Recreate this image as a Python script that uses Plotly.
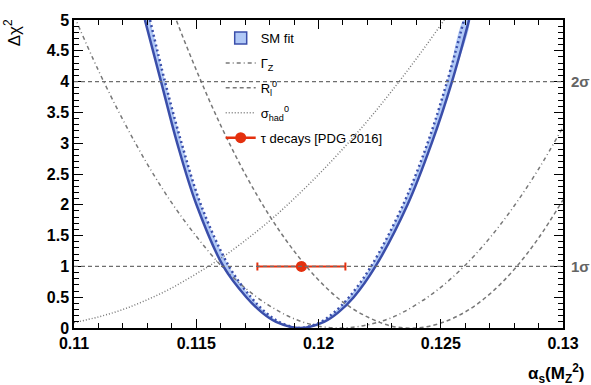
import plotly.graph_objects as go

# ---------------- data ----------------
ALPHA_GRID = [0.110, 0.111, 0.112, 0.113, 0.114, 0.115, 0.116, 0.117, 0.118, 0.119, 0.120,
              0.121, 0.122, 0.123, 0.124, 0.125, 0.126, 0.127, 0.128, 0.129, 0.130]

GAMMA_Z_DCHI2 = [5.07, 4.18, 3.38, 2.66, 2.03, 1.49, 1.02, 0.65, 0.36, 0.15, 0.03,
                 0.00, 0.05, 0.17, 0.38, 0.66, 1.02, 1.46, 1.98, 2.58, 3.26]
RL0_DCHI2 = [10.3, 8.86, 7.53, 6.31, 5.19, 4.19, 3.29, 2.50, 1.82, 1.25, 0.78,
             0.42, 0.18, 0.03, 0.00, 0.08, 0.26, 0.55, 0.95, 1.46, 2.08]
SIGHAD_DCHI2 = [0.087, 0.18, 0.30, 0.46, 0.65, 0.88, 1.13, 1.42, 1.74, 2.10, 2.49,
                2.91, 3.36, 3.85, 4.37, 4.92, 5.50, 6.12, 6.77, 7.46, 8.18]

# SM fit: outer (solid) and inner (dotted) profiles
SM_OUT_ALPHA = [0.11290, 0.11356, 0.11422, 0.11501, 0.11611, 0.11705, 0.11769, 0.11826, 0.11924,
                0.12023, 0.12080, 0.12144, 0.12233, 0.12364, 0.12463, 0.12546, 0.12616]
SM_OUT_DCHI2 = [5, 4, 3, 2, 1, 0.5, 0.25, 0.1, 0, 0.1, 0.25, 0.5, 1, 2, 3, 4, 5]
SM_IN_ALPHA = [0.11311, 0.11372, 0.11440, 0.11519, 0.11634, 0.11724, 0.11785, 0.11838, 0.11924,
               0.12010, 0.12063, 0.12125, 0.12215, 0.12346, 0.12446, 0.12526, 0.12595]
SM_IN_DCHI2 = [5, 4, 3, 2, 1, 0.5, 0.25, 0.1, 0, 0.1, 0.25, 0.5, 1, 2, 3, 4, 5]

TAU_ALPHA = [0.1193]
TAU_DCHI2 = [1.0]
TAU_ERR = [0.0018]

SIGMA_LEVELS = [1, 4]
SIGMA_LABELS = ["1σ", "2σ"]

X_TICKS = [0.11, 0.115, 0.12, 0.125, 0.13]
X_TICK_TEXT = ["0.11", "0.115", "0.12", "0.125", "0.13"]
Y_TICKS = [0, 0.5, 1, 1.5, 2, 2.5, 3, 3.5, 4, 4.5, 5]
Y_TICK_TEXT = ["0", "0.5", "1", "1.5", "2", "2.5", "3", "3.5", "4", "4.5", "5"]

# ---------------- styles ----------------
GRAY = "rgb(120,120,120)"
BLUE = "rgb(58,78,170)"
BAND = "rgb(176,200,246)"
RED = "rgb(228,48,14)"
FONT = "Liberation Sans, Arial, sans-serif"

fig = go.Figure()

# band between outer and inner profile
fig.add_trace(go.Scatter(
    x=SM_OUT_ALPHA + SM_IN_ALPHA[::-1], y=SM_OUT_DCHI2 + SM_IN_DCHI2[::-1],
    mode="lines", line=dict(width=0, shape="spline"), fill="toself", fillcolor=BAND,
    showlegend=False, hoverinfo="skip"))

# legend-only entry for SM fit (box symbol)
fig.add_trace(go.Bar(
    x=[None], y=[None], name="SM fit", legendgroup="a",
    marker=dict(color=BAND, line=dict(color=BLUE, width=1.5))))

fig.add_trace(go.Scatter(
    x=ALPHA_GRID, y=GAMMA_Z_DCHI2, mode="lines", name="Γ<sub>Z</sub>", legendgroup="b",
    line=dict(color=GRAY, width=1.5, dash="4px,3px,1px,3px", shape="spline")))
fig.add_trace(go.Scatter(
    x=ALPHA_GRID, y=RL0_DCHI2, mode="lines", name="R<sub>l</sub><sup>0</sup>", legendgroup="c",
    line=dict(color=GRAY, width=1.5, dash="4px,3px", shape="spline")))
fig.add_trace(go.Scatter(
    x=ALPHA_GRID, y=SIGHAD_DCHI2, mode="lines", name="σ<sub>had</sub><sup>0</sup>", legendgroup="d",
    line=dict(color=GRAY, width=1.5, dash="1px,2px", shape="spline")))

# SM fit lines
fig.add_trace(go.Scatter(
    x=SM_IN_ALPHA, y=SM_IN_DCHI2, mode="lines", showlegend=False,
    line=dict(color=BLUE, width=2.5, dash="2px,3px", shape="spline")))
fig.add_trace(go.Scatter(
    x=SM_OUT_ALPHA, y=SM_OUT_DCHI2, mode="lines", showlegend=False,
    line=dict(color=BLUE, width=2.5, shape="spline")))

# tau point
fig.add_trace(go.Scatter(
    x=TAU_ALPHA, y=TAU_DCHI2, mode="lines+markers", name="τ decays [PDG 2016]", legendgroup="e",
    marker=dict(color=RED, size=11, symbol="circle"),
    line=dict(color=RED, width=2.5),
    error_x=dict(type="data", array=TAU_ERR, color=RED, thickness=2, width=4)))

for lvl, lab in zip(SIGMA_LEVELS, SIGMA_LABELS):
    fig.add_hline(y=lvl, line=dict(color="rgb(110,110,110)", width=1.2, dash="4px,3px"))
    fig.add_annotation(x=1.012, xref="paper", y=lvl, yref="y", text=f"<b>{lab}</b>", showarrow=False,
                       xanchor="left", yanchor="middle",
                       font=dict(family=FONT, size=15, color="rgb(100,100,100)"))

axis_common = dict(showline=True, linecolor="black", linewidth=1.5, mirror="ticks",
                   ticks="inside", ticklen=9, tickwidth=1.2, tickcolor="black",
                   showgrid=False, zeroline=False,
                   tickfont=dict(family=FONT, size=16, color="black", weight="bold"))

fig.update_xaxes(range=[0.11, 0.13], tickvals=X_TICKS, ticktext=[f"<b>{t}</b>" for t in X_TICK_TEXT],
                 minor=dict(ticks="inside", ticklen=5, dtick=0.001, tick0=0.11,
                            tickcolor="black", tickwidth=1.2),
                 **axis_common)
fig.update_yaxes(range=[0, 5], tickvals=Y_TICKS, ticktext=[f"<b>{t}</b>" for t in Y_TICK_TEXT],
                 minor=dict(ticks="inside", ticklen=5, dtick=0.1, tick0=0,
                            tickcolor="black", tickwidth=1.2),
                 **axis_common)

# axis titles
fig.add_annotation(x=-0.125, xref="paper", y=1.01, yref="paper", text="Δχ<sup>2</sup>",
                   showarrow=False, textangle=-90, xanchor="center", yanchor="top",
                   font=dict(family=FONT, size=17, color="black"))
fig.add_annotation(x=0.985, xref="paper", y=-0.1, yref="paper",
                   text="<b>α<sub>s</sub>(M<sub>Z</sub><sup>2</sup>)</b>",
                   showarrow=False, xanchor="center", yanchor="top",
                   font=dict(family=FONT, size=17, color="black"))

fig.update_layout(
    width=591, height=385,
    margin=dict(l=74, r=28, t=15, b=57),
    paper_bgcolor="white", plot_bgcolor="white",
    showlegend=True,
    barmode="overlay",
    legend=dict(x=0.30, y=0.99, xanchor="left", yanchor="top",
                bgcolor="rgba(0,0,0,0)", borderwidth=0, itemwidth=30,
                tracegroupgap=5,
                font=dict(family=FONT, size=13, color="black")),
)

fig.write_html("out.html", config={"displayModeBar": False},
               post_script="document.body.style.margin='0px';")
